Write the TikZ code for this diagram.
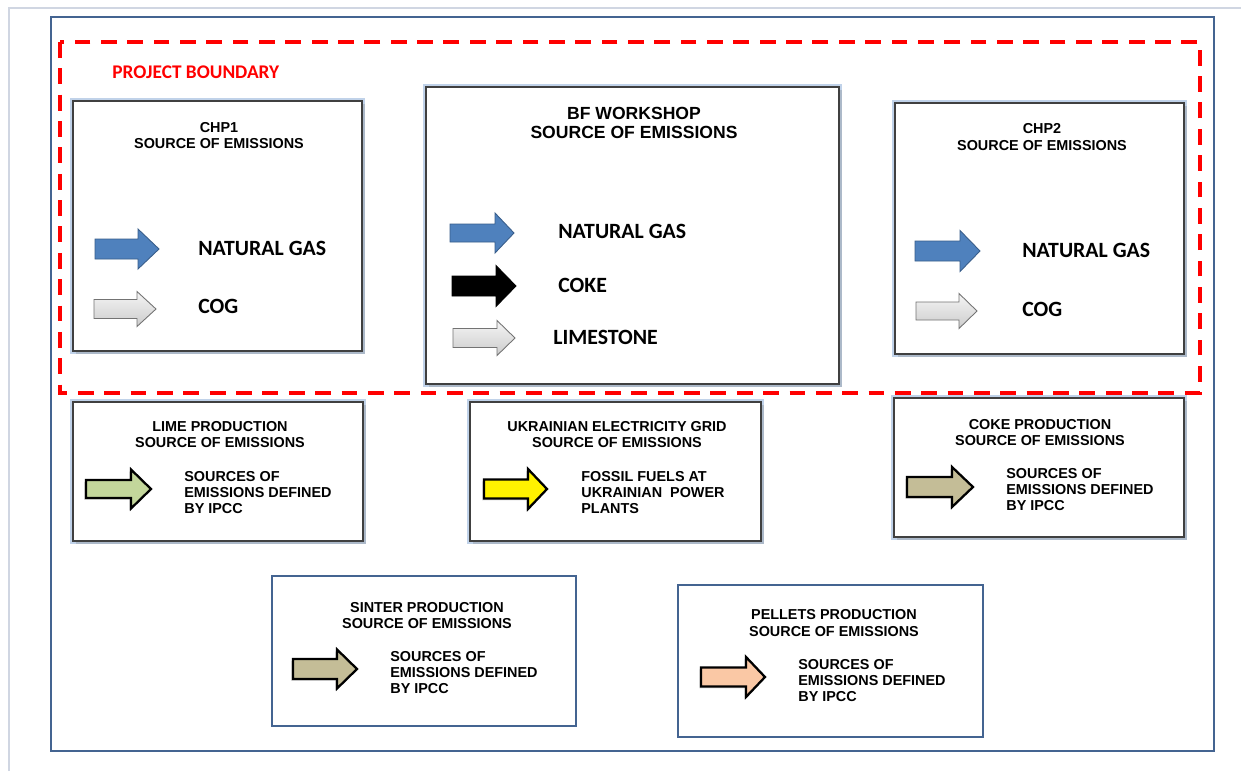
\documentclass[tikz,border=0pt]{standalone}
\usepackage{fontspec}
\newfontfamily\arialfont{Liberation Sans}
\newfontfamily\calfont{Carlito}
\usepackage{tikz}
\usetikzlibrary{shadows}
\definecolor{framegray}{RGB}{208,214,226}
\definecolor{frameblue}{RGB}{68,100,145}
\definecolor{boxedge}{RGB}{64,64,64}
\definecolor{glowblue}{RGB}{192,210,233}
\definecolor{gasblue}{RGB}{79,129,189}
\definecolor{gasedge}{RGB}{56,93,138}
\definecolor{limefill}{RGB}{195,214,155}
\definecolor{tanfill}{RGB}{196,189,151}
\definecolor{peachfill}{RGB}{250,200,165}
\tikzset{
  srcbox/.style={rectangle, fill=white, draw=boxedge, line width=1.4pt,
    preaction={draw=glowblue, line width=3.5pt},
    drop shadow={shadow xshift=1.5pt, shadow yshift=-1.5pt, opacity=0.3}},
  extbox/.style={rectangle, fill=white, draw=frameblue, line width=1.2pt},
  title/.style={align=center, inner sep=0pt, font=\arialfont\bfseries\fontsize{8.2}{9.6}\selectfont},
  bigtitle/.style={align=center, inner sep=0pt, font=\arialfont\bfseries\fontsize{10}{11.3}\selectfont},
  fuel/.style={anchor=west, inner sep=0pt, font=\calfont\bfseries\fontsize{12.4}{14}\selectfont},
  note/.style={anchor=west, align=left, inner sep=0pt, font=\arialfont\bfseries\fontsize{8.2}{9.1}\selectfont},
}
% tail x, head base x, tip x, centre y, shaft half, head half
\newcommand{\fuelarrow}[7][]{%
  \draw[#1] (#2,#5-#6) -- (#3,#5-#6) -- (#3,#5-#7) -- (#4,#5)
    -- (#3,#5+#7) -- (#3,#5+#6) -- (#2,#5+#6) -- cycle;}

\begin{document}
\begin{tikzpicture}[x=0.02cm, y=-0.02cm]
  \tikzset{
    gasarrow/.style={fill=gasblue, draw=gasedge, line width=0.5pt},
    cokearrow/.style={fill=black, draw=black, line width=0.5pt},
    greyarrow/.style={top color=gray!8, bottom color=gray!40, draw=gray!90!black, line width=0.5pt},
    boldarrow/.style={draw=black, line width=1.3pt, line join=miter,
      drop shadow={shadow xshift=-1pt, shadow yshift=-1pt, opacity=0.25}},
    boundary/.style={draw=red, line width=2.1pt, dash pattern=on 9pt off 6pt},
  }
  \useasboundingbox (0,0) rectangle (1241,771);

  % Frames
  \draw[framegray, line width=0.8pt] (9,771) -- (9,8) -- (1241,8);
  \draw[frameblue, line width=1.3pt] (51,17) rectangle (1214,751);
  \draw[boundary] (60,42) rectangle (1200,393);
  \node[anchor=west, inner sep=0pt, text=red, font=\calfont\bfseries\fontsize{11}{13}\selectfont] (boundlbl) at (112,72) {PROJECT BOUNDARY};

  % Sources inside the boundary
  \node[srcbox, minimum width=5.78cm, minimum height=5cm] (chp1) at (217.5,226) {};
  \node[srcbox, minimum width=8.26cm, minimum height=5.94cm] (bf) at (632.5,235.5) {};
  \node[srcbox, minimum width=5.78cm, minimum height=5.02cm] (chp2) at (1039.5,228.5) {};

  \node[title] (chp1t) at (219,135.5) {CHP1\\SOURCE OF EMISSIONS};
  \node[bigtitle] (bft) at (634,123) {BF WORKSHOP\\SOURCE OF EMISSIONS};
  \node[title] (chp2t) at (1042,137) {CHP2\\SOURCE OF EMISSIONS};

  \fuelarrow[gasarrow]{95}{138}{159}{249}{10}{20}
  \fuelarrow[greyarrow]{94}{137}{156}{309}{9.5}{17.5}
  \node[fuel] (chp1gas) at (198,248) {NATURAL GAS};
  \node[fuel] (chp1cog) at (198,306) {COG};

  \fuelarrow[gasarrow]{450}{495}{514}{233}{9}{20}
  \fuelarrow[cokearrow]{452}{496}{516}{286}{10}{20.5}
  \fuelarrow[greyarrow]{453}{497}{515}{338}{9.5}{17.5}
  \node[fuel] (bfgas) at (558,231) {NATURAL GAS};
  \node[fuel] (bfcoke) at (558,285) {COKE};
  \node[fuel] (bflime) at (553,337) {LIMESTONE};

  \fuelarrow[gasarrow]{915}{960}{980}{251}{10}{20.5}
  \fuelarrow[greyarrow]{916}{959}{977}{311}{9}{17.5}
  \node[fuel] (chp2gas) at (1022,250) {NATURAL GAS};
  \node[fuel] (chp2cog) at (1022,309) {COG};

  % Sources outside the boundary
  \node[srcbox, minimum width=5.8cm, minimum height=2.78cm] (lime) at (218,471.5) {};
  \node[srcbox, minimum width=5.82cm, minimum height=2.78cm] (grid) at (615.5,471.5) {};
  \node[srcbox, minimum width=5.8cm, minimum height=2.78cm] (coke) at (1039,467.5) {};
  \node[extbox, minimum width=6.08cm, minimum height=3cm] (sinter) at (424,651) {};
  \node[extbox, minimum width=6.1cm, minimum height=3.04cm] (pellets) at (830.5,661) {};

  \node[title] (limet) at (220,434.5) {LIME PRODUCTION\\SOURCE OF EMISSIONS};
  \node[title] (gridt) at (617,434.5) {UKRAINIAN ELECTRICITY GRID\\SOURCE OF EMISSIONS};
  \node[title] (coket) at (1040,432.5) {COKE PRODUCTION\\SOURCE OF EMISSIONS};
  \node[title] (sintert) at (427,615.5) {SINTER PRODUCTION\\SOURCE OF EMISSIONS};
  \node[title] (pelletst) at (834,623) {PELLETS PRODUCTION\\SOURCE OF EMISSIONS};

  \fuelarrow[boldarrow, fill=limefill]{86}{131}{151}{489}{9}{19.5}
  \fuelarrow[boldarrow, fill=yellow]{484}{528}{547}{489}{9.5}{20}
  \fuelarrow[boldarrow, fill=tanfill]{907}{952}{973}{487}{10}{20}
  \fuelarrow[boldarrow, fill=tanfill]{293}{337}{357}{669}{10}{19.5}
  \fuelarrow[boldarrow, fill=peachfill]{701}{746}{765}{677}{9.5}{20}

  \node[note] (limen) at (184,493) {SOURCES OF\\EMISSIONS DEFINED\\BY IPCC};
  \node[note] (gridn) at (581,493) {FOSSIL FUELS AT\\UKRAINIAN\ \ POWER\\PLANTS};
  \node[note] (coken) at (1006,490) {SOURCES OF\\EMISSIONS DEFINED\\BY IPCC};
  \node[note] (sintern) at (390,673) {SOURCES OF\\EMISSIONS DEFINED\\BY IPCC};
  \node[note] (pelletsn) at (798,681) {SOURCES OF\\EMISSIONS DEFINED\\BY IPCC};

\end{tikzpicture}
\end{document}
